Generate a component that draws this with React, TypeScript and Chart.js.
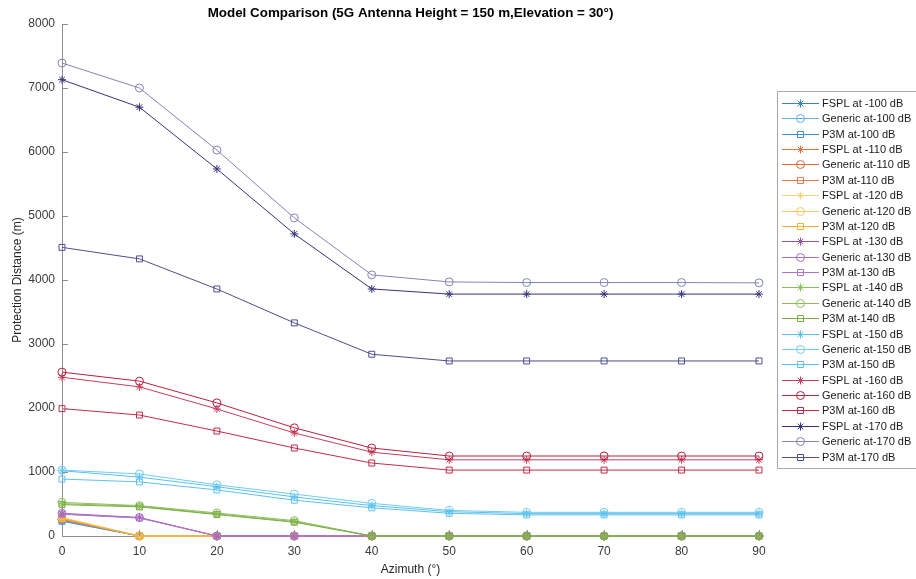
import React, { useEffect, useRef } from "react";
import { Chart, registerables } from "chart.js";

Chart.register(...registerables);

const azimuth = [0, 10, 20, 30, 40, 50, 60, 70, 80, 90];
const xTicks = [0, 10, 20, 30, 40, 50, 60, 70, 80, 90];
const yTicks = [0, 1000, 2000, 3000, 4000, 5000, 6000, 7000, 8000];

const fspl100 = [245, 0, 0, 0, 0, 0, 0, 0, 0, 0];
const generic100 = [250, 0, 0, 0, 0, 0, 0, 0, 0, 0];
const p3m100 = [230, 0, 0, 0, 0, 0, 0, 0, 0, 0];
const fspl110 = [265, 0, 0, 0, 0, 0, 0, 0, 0, 0];
const generic110 = [270, 0, 0, 0, 0, 0, 0, 0, 0, 0];
const p3m110 = [255, 0, 0, 0, 0, 0, 0, 0, 0, 0];
const fspl120 = [280, 0, 0, 0, 0, 0, 0, 0, 0, 0];
const generic120 = [290, 0, 0, 0, 0, 0, 0, 0, 0, 0];
const p3m120 = [275, 0, 0, 0, 0, 0, 0, 0, 0, 0];
const fspl130 = [345, 285, 0, 0, 0, 0, 0, 0, 0, 0];
const generic130 = [355, 290, 0, 0, 0, 0, 0, 0, 0, 0];
const p3m130 = [340, 280, 0, 0, 0, 0, 0, 0, 0, 0];
const fspl140 = [505, 465, 345, 225, 0, 0, 0, 0, 0, 0];
const generic140 = [525, 475, 360, 240, 0, 0, 0, 0, 0, 0];
const p3m140 = [490, 455, 335, 215, 0, 0, 0, 0, 0, 0];
const fspl150 = [1020, 920, 770, 610, 475, 380, 350, 350, 350, 350];
const generic150 = [1030, 970, 800, 655, 510, 400, 370, 370, 370, 370];
const p3m150 = [890, 845, 720, 560, 440, 355, 330, 330, 330, 330];
const fspl160 = [2480, 2330, 1985, 1610, 1310, 1190, 1190, 1190, 1190, 1190];
const generic160 = [2560, 2420, 2080, 1690, 1375, 1250, 1250, 1250, 1250, 1250];
const p3m160 = [1990, 1890, 1640, 1375, 1140, 1030, 1030, 1030, 1030, 1030];
const fspl170 = [7130, 6700, 5735, 4720, 3860, 3780, 3780, 3780, 3780, 3780];
const generic170 = [7390, 7000, 6030, 4970, 4080, 3970, 3960, 3960, 3960, 3955];
const p3m170 = [4510, 4330, 3860, 3330, 2840, 2735, 2735, 2735, 2735, 2735];

const seriesLabels = [
  "FSPL at -100 dB", "Generic at-100 dB", "P3M at-100 dB",
  "FSPL at -110 dB", "Generic at-110 dB", "P3M at-110 dB",
  "FSPL at -120 dB", "Generic at-120 dB", "P3M at-120 dB",
  "FSPL at -130 dB", "Generic at-130 dB", "P3M at-130 dB",
  "FSPL at -140 dB", "Generic at-140 dB", "P3M at-140 dB",
  "FSPL at -150 dB", "Generic at-150 dB", "P3M at-150 dB",
  "FSPL at -160 dB", "Generic at-160 dB", "P3M at-160 dB",
  "FSPL at -170 dB", "Generic at-170 dB", "P3M at-170 dB",
];
const seriesValues = [
  fspl100, generic100, p3m100,
  fspl110, generic110, p3m110,
  fspl120, generic120, p3m120,
  fspl130, generic130, p3m130,
  fspl140, generic140, p3m140,
  fspl150, generic150, p3m150,
  fspl160, generic160, p3m160,
  fspl170, generic170, p3m170,
];
const seriesColors = [
  "#3a82c6", "#5fb0e4", "#3f90d2",
  "#e6733e", "#e2683a", "#ea7c52",
  "#f4d27a", "#f2c866", "#efb42c",
  "#9150ad", "#ab6cc0", "#b276c8",
  "#88c05a", "#8fbc5c", "#7aab42",
  "#58c2f0", "#70ccf2", "#60c0ee",
  "#c43e5e", "#b8223e", "#c02c48",
  "#34347c", "#8484b2", "#4e4e8e",
];
const markerStyles = ["star", "circle", "rect"];

const FONT = "'Liberation Sans', Arial, Helvetica, sans-serif";

function drawMarker(ctx: CanvasRenderingContext2D, style: string, x: number, y: number) {
  ctx.beginPath();
  if (style === "circle") {
    ctx.arc(x, y, 4, 0, Math.PI * 2);
  } else if (style === "rect") {
    ctx.rect(x - 3, y - 3, 6, 6);
  } else {
    const r = 4;
    ctx.moveTo(x - r, y); ctx.lineTo(x + r, y);
    ctx.moveTo(x, y - r); ctx.lineTo(x, y + r);
    const d = r * 0.707;
    ctx.moveTo(x - d, y - d); ctx.lineTo(x + d, y + d);
    ctx.moveTo(x - d, y + d); ctx.lineTo(x + d, y - d);
  }
  ctx.stroke();
}

const decorPlugin = {
  id: "decor",
  afterDraw(chart: any) {
    const ctx = chart.ctx as CanvasRenderingContext2D;
    const area = chart.chartArea;
    const xs = chart.scales.x;
    const ys = chart.scales.y;
    ctx.save();
    // inside ticks
    ctx.strokeStyle = "#909090";
    ctx.lineWidth = 1;
    ctx.beginPath();
    xTicks.forEach((t) => {
      const px = Math.round(xs.getPixelForValue(t)) + 0.5;
      ctx.moveTo(px, area.bottom);
      ctx.lineTo(px, area.bottom - 6);
    });
    yTicks.forEach((t) => {
      const py = Math.round(ys.getPixelForValue(t)) + 0.5;
      ctx.moveTo(area.left, py);
      ctx.lineTo(area.left + 6, py);
    });
    ctx.stroke();
    // title
    ctx.fillStyle = "#000000";
    ctx.font = `bold 13.4px ${FONT}`;
    ctx.textAlign = "center";
    ctx.textBaseline = "middle";
    ctx.fillText(
      "Model Comparison (5G Antenna Height = 150 m,Elevation = 30°)",
      (area.left + area.right) / 2,
      13
    );
    // legend
    const bx = 777.5, by = 91.5, bw = 150, bh = 377;
    ctx.fillStyle = "#ffffff";
    ctx.fillRect(bx, by, bw, bh);
    ctx.strokeStyle = "#a8a8a8";
    ctx.strokeRect(bx, by, bw, bh);
    ctx.font = `11px ${FONT}`;
    ctx.textAlign = "left";
    ctx.textBaseline = "middle";
    const n = seriesLabels.length;
    const step = (457 - 103.5) / (n - 1);
    for (let i = 0; i < n; i++) {
      const y = Math.round(103 + i * step) + 0.5;
      ctx.strokeStyle = seriesColors[i];
      ctx.lineWidth = 1;
      ctx.beginPath();
      ctx.moveTo(782, y);
      ctx.lineTo(819, y);
      ctx.stroke();
      drawMarker(ctx, markerStyles[i % 3], 800.5, y);
      ctx.fillStyle = "#1a1a1a";
      ctx.fillText(seriesLabels[i], 822, y);
    }
    ctx.restore();
  },
};

export default function App() {
  const ref = useRef<HTMLCanvasElement | null>(null);
  useEffect(() => {
    if (!ref.current) return;
    const n = seriesLabels.length;
    const datasets = seriesLabels.map((label, i) => ({
      label,
      data: azimuth.map((a, j) => ({ x: a, y: seriesValues[i][j] })),
      borderColor: seriesColors[i],
      backgroundColor: "transparent",
      borderWidth: 1,
      pointStyle: markerStyles[i % 3],
      pointRadius: markerStyles[i % 3] === "rect" ? 4.2 : 4,
      pointBorderColor: seriesColors[i],
      pointBackgroundColor: "transparent",
      pointBorderWidth: 1,
      tension: 0,
      clip: false,
      order: n - i,
    }));
    const chart = new Chart(ref.current, {
      type: "line",
      data: { datasets },
      options: {
        animation: false,
        responsive: true,
        maintainAspectRatio: false,
        layout: { padding: { top: 24, right: 157, left: 0, bottom: 0 } },
        plugins: {
          legend: { display: false },
          title: { display: false },
          tooltip: { enabled: false },
        },
        scales: {
          x: {
            type: "linear",
            min: 0,
            max: 90,
            afterBuildTicks: (s: any) => { s.ticks = xTicks.map((v) => ({ value: v })); },
            afterFit: (s: any) => { s.height = 43; },
            grid: { display: false, drawTicks: false },
            border: { display: true, color: "#909090", width: 1 },
            ticks: {
              color: "#3a3a3a",
              font: { family: FONT, size: 12 },
              padding: 8,
              maxRotation: 0,
              callback: (v: any) => String(v),
            },
            title: {
              display: true,
              text: "Azimuth (°)",
              color: "#262626",
              font: { family: FONT, size: 12 },
              padding: { top: 2, bottom: 2 },
            },
          },
          y: {
            type: "linear",
            min: 0,
            max: 8000,
            afterBuildTicks: (s: any) => { s.ticks = yTicks.map((v) => ({ value: v })); },
            afterFit: (s: any) => { s.width = 62; },
            grid: { display: false, drawTicks: false },
            border: { display: true, color: "#909090", width: 1 },
            ticks: {
              color: "#3a3a3a",
              font: { family: FONT, size: 12 },
              padding: 7,
              callback: (v: any) => String(v),
            },
            title: {
              display: true,
              text: "Protection Distance (m)",
              color: "#262626",
              font: { family: FONT, size: 12 },
              padding: { top: 10, bottom: 2 },
            },
          },
        },
      },
      plugins: [decorPlugin],
    } as any);
    return () => chart.destroy();
  }, []);
  return (
    <div style={{ position: "fixed", left: 0, top: 0, width: 916, height: 579, background: "#ffffff" }}>
      <canvas ref={ref} />
    </div>
  );
}
